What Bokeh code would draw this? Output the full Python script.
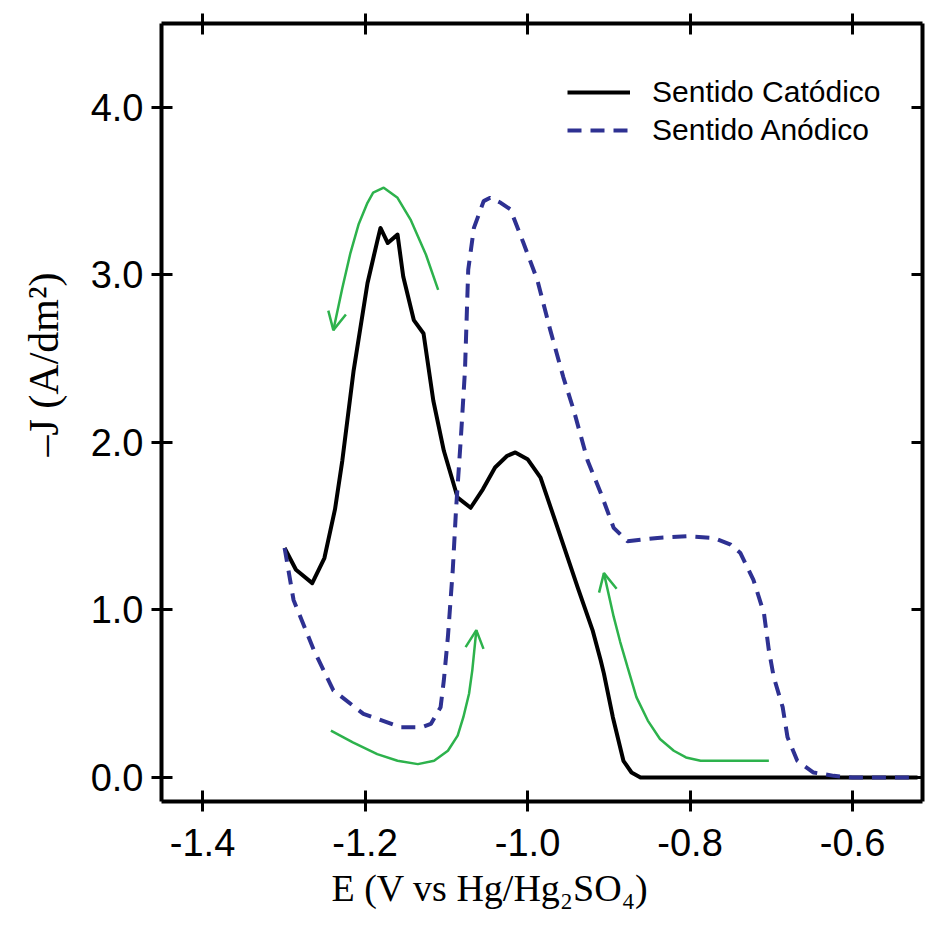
from bokeh.plotting import figure
from bokeh.models import (Range1d, LinearAxis, FixedTicker, PrintfTickFormatter,
                          CustomJSTickFormatter, Legend, LegendItem, Arrow, OpenHead, Title)
from bokeh.embed import file_html
from bokeh.resources import INLINE

# ---- data ----
cat_E = [-1.299, -1.285, -1.265, -1.250, -1.237, -1.228, -1.214, -1.197, -1.185, -1.181,
         -1.172, -1.160, -1.153, -1.140, -1.128, -1.116, -1.103, -1.086, -1.070, -1.055,
         -1.040, -1.025, -1.015, -1.000, -0.984, -0.963, -0.938, -0.920, -0.910, -0.906,
         -0.895, -0.882, -0.872, -0.861, -0.800, -0.700, -0.600, -0.520]
cat_J = [1.37, 1.24, 1.16, 1.31, 1.60, 1.89, 2.43, 2.95, 3.20, 3.28,
         3.19, 3.24, 2.99, 2.73, 2.65, 2.25, 1.95, 1.67, 1.61, 1.72,
         1.85, 1.92, 1.94, 1.90, 1.79, 1.49, 1.13, 0.88, 0.70, 0.62,
         0.36, 0.10, 0.03, 0.0, 0.0, 0.0, 0.0, 0.0]

ano_E = [-1.299, -1.288, -1.263, -1.239, -1.202, -1.156, -1.130, -1.119, -1.107, -1.103,
         -1.098, -1.092, -1.088, -1.082, -1.077, -1.073, -1.066, -1.054, -1.046, -1.033,
         -1.021, -1.005, -0.988, -0.972, -0.956, -0.943, -0.926, -0.910, -0.894, -0.877,
         -0.860, -0.840, -0.803, -0.771, -0.750, -0.738, -0.722, -0.709, -0.703, -0.697,
         -0.686, -0.680, -0.668, -0.648, -0.623, -0.600, -0.520]
ano_J = [1.37, 1.06, 0.76, 0.52, 0.38, 0.30, 0.30, 0.32, 0.42, 0.58,
         0.84, 1.24, 1.60, 2.03, 2.43, 3.03, 3.28, 3.44, 3.46, 3.43,
         3.39, 3.19, 2.97, 2.67, 2.39, 2.19, 1.89, 1.70, 1.49, 1.41,
         1.42, 1.43, 1.44, 1.43, 1.39, 1.34, 1.18, 0.98, 0.76, 0.60,
         0.42, 0.24, 0.10, 0.03, 0.01, 0.0, 0.0]

# green direction arrows (annotation paths, drawn toward the arrow tip)
arr1_E = [-1.110, -1.125, -1.144, -1.160, -1.177, -1.190, -1.197, -1.208, -1.218, -1.228, -1.239]
arr1_J = [2.91, 3.12, 3.33, 3.46, 3.52, 3.49, 3.43, 3.30, 3.13, 2.92, 2.67]
arr2_E = [-1.242, -1.215, -1.185, -1.160, -1.135, -1.115, -1.098, -1.086, -1.079, -1.072, -1.068, -1.063]
arr2_J = [0.28, 0.21, 0.14, 0.10, 0.08, 0.10, 0.16, 0.25, 0.36, 0.50, 0.64, 0.88]
arr3_E = [-0.703, -0.750, -0.787, -0.805, -0.820, -0.837, -0.852, -0.866, -0.877, -0.886, -0.894, -0.906]
arr3_J = [0.10, 0.10, 0.10, 0.12, 0.16, 0.23, 0.34, 0.48, 0.66, 0.81, 0.96, 1.22]

x_ticks = [-1.4, -1.2, -1.0, -0.8, -0.6]
y_ticks = [0.0, 1.0, 2.0, 3.0, 4.0]
series_names = ["Sentido Catódico", "Sentido Anódico"]
x_title = "E (V vs Hg/Hg\u2082SO\u2084)"
y_title = "\u2013J (A/dm\u00b2)"

BLUE = "#2E3192"
GREEN = "#2DB24C"

p = figure(width=926, height=919, output_backend="svg", toolbar_location=None,
           x_range=Range1d(-1.4505, -0.5139), y_range=Range1d(-0.143, 4.50),
           x_axis_location=None, y_axis_location=None)
p.min_border_left = 161
p.min_border_right = 4
p.min_border_top = 23
p.min_border_bottom = 118
p.xgrid.visible = False
p.ygrid.visible = False
p.outline_line_color = None
p.background_fill_color = "white"
p.border_fill_color = "white"

def style_axis(ax, ticks, show_labels):
    ax.ticker = FixedTicker(ticks=ticks)
    ax.axis_line_width = 4
    ax.axis_line_color = "black"
    ax.major_tick_line_width = 3
    ax.major_tick_in = 11
    ax.minor_tick_line_color = None
    ax.major_label_text_font = "Liberation Sans"
    ax.major_label_text_color = "black"
    if show_labels:
        ax.formatter = PrintfTickFormatter(format="%.1f")
        ax.major_tick_out = 10
        ax.major_label_text_font_size = "38px"
        ax.major_label_standoff = 8
    else:
        ax.formatter = CustomJSTickFormatter(code="return ''")
        ax.major_tick_out = 0
        ax.major_label_text_font_size = "2px"
        ax.major_label_standoff = 0

xb = LinearAxis()
style_axis(xb, x_ticks, True)
xb.major_label_standoff = 17
p.add_layout(xb, "below")

yl = LinearAxis()
style_axis(yl, y_ticks, True)
p.add_layout(yl, "left")

xt = LinearAxis()
style_axis(xt, x_ticks, False)
xt.major_tick_out = 10
p.add_layout(xt, "above")
yr = LinearAxis()
style_axis(yr, y_ticks, False)
p.add_layout(yr, "right")

# axis titles, offset from the frame centre like the reference
tx = Title(text=x_title, align="left", offset=170, text_font="Liberation Serif",
           text_font_size="38px", text_font_style="normal", text_color="black",
           standoff=12, vertical_align="bottom")
p.add_layout(tx, "below")
ty = Title(text=y_title, align="left", offset=345, text_font="Liberation Serif",
           text_font_size="42px", text_font_style="normal", text_color="black",
           standoff=38, vertical_align="top")
p.add_layout(ty, "left")

r_cat = p.line(cat_E, cat_J, line_color="black", line_width=4, line_join="round")
r_ano = p.line(ano_E, ano_J, line_color=BLUE, line_width=4, line_dash="14 9")

for ex, ey in [(arr1_E, arr1_J), (arr2_E, arr2_J), (arr3_E, arr3_J)]:
    p.line(ex, ey, line_color=GREEN, line_width=2.5)
    p.add_layout(Arrow(end=OpenHead(size=18, line_color=GREEN, line_width=2.5),
                       x_start=ex[-2], y_start=ey[-2], x_end=ex[-1], y_end=ey[-1],
                       line_alpha=0))

legend = Legend(items=[LegendItem(label=series_names[0], renderers=[r_cat]),
                       LegendItem(label=series_names[1], renderers=[r_ano])],
                location=(406, 654))
legend.border_line_color = None
legend.background_fill_alpha = 0
legend.padding = 0
legend.margin = 0
legend.spacing = 4
legend.glyph_width = 63
legend.glyph_height = 34
legend.label_height = 34
legend.label_standoff = 22
legend.label_text_font = "Liberation Sans"
legend.label_text_font_size = "30px"
legend.label_text_color = "black"
p.add_layout(legend, "center")

open("out.html", "w").write(file_html(p, INLINE))
